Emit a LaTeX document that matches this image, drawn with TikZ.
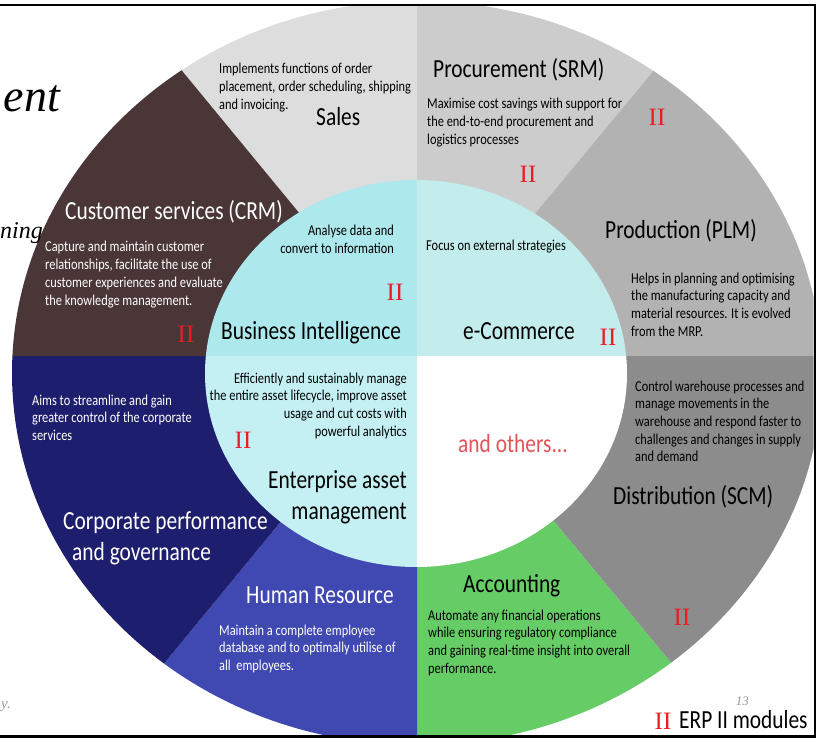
\documentclass[tikz,border=0pt]{standalone}
\usepackage{fontspec}
\setmainfont[FakeStretch=0.82]{Carlito}
\newfontfamily\serifrm{Liberation Serif}
\usetikzlibrary{calc}
\definecolor{salesgrey}{RGB}{221,221,221}
\definecolor{procgrey}{RGB}{204,204,204}
\definecolor{prodgrey}{RGB}{178,178,178}
\definecolor{distgrey}{RGB}{140,140,140}
\definecolor{accgreen}{RGB}{102,204,102}
\definecolor{hrblue}{RGB}{64,72,178}
\definecolor{corpnavy}{RGB}{30,30,110}
\definecolor{crmbrown}{RGB}{74,54,54}
\definecolor{bicyan}{RGB}{172,232,236}
\definecolor{ecyan}{RGB}{195,236,236}
\definecolor{eamcyan}{RGB}{196,240,244}
\definecolor{iired}{RGB}{235,28,36}
\definecolor{othersred}{RGB}{226,84,90}
\definecolor{slidegrey}{RGB}{150,150,150}
\begin{document}
\begin{tikzpicture}[x=1pt,y=-1pt,
  body/.style={inner sep=0pt, font=\fontsize{15.1}{17.7}\selectfont, align=left, anchor=base west},
  bodyr/.style={body, align=right, anchor=base east},
  ttl/.style={inner sep=0pt, font=\fontsize{26.1}{31.5}\selectfont, anchor=base west},
  ttlr/.style={ttl, align=right, anchor=base east},
  twoi/.style={inner sep=0pt, text=iired, font=\serifrm\fontsize{25}{25}\selectfont},
  slideit/.style={inner sep=0pt, font=\serifrm\itshape, anchor=base east}]
\useasboundingbox (0,0) rectangle (817,738);
% centre of the rays and far points
\coordinate (O) at (417,356);
\coordinate (FA) at (-285,-496);
\coordinate (FB) at (1116,-487);
\coordinate (FD) at (1167,1262);
\coordinate (FH) at (-333,1268);
% outer ring
\begin{scope}
  \clip (0,6.5) rectangle (813.5,735.5);
  \clip (417,373) ellipse [x radius=405pt, y radius=372pt];
  \fill[salesgrey] (O) -- (FA) -- (-285,-1000) -- (417,-1000) -- cycle;
  \fill[procgrey] (O) -- (417,-1000) -- (1116,-1000) -- (FB) -- cycle;
  \fill[prodgrey] (O) -- (FB) -- (1500,-487) -- (1500,356) -- cycle;
  \fill[distgrey] (O) -- (1500,356) -- (1500,1262) -- (FD) -- cycle;
  \fill[accgreen] (O) -- (FD) -- (1167,1500) -- (417,1500) -- cycle;
  \fill[hrblue] (O) -- (417,1500) -- (-333,1500) -- (FH) -- cycle;
  \fill[corpnavy] (O) -- (FH) -- (-700,1268) -- (-700,356) -- cycle;
  \fill[crmbrown] (O) -- (-700,356) -- (-700,-496) -- (FA) -- cycle;
\end{scope}
% inner ellipse
\begin{scope}
  \clip (416,373.5) ellipse [x radius=211pt, y radius=193.5pt];
  \fill[bicyan] (0,0) rectangle (417,356);
  \fill[ecyan] (417,0) rectangle (817,356);
  \fill[eamcyan] (0,356) rectangle (417,738);
  \fill[white] (417,356) rectangle (817,738);
\end{scope}
% frame
\coordinate (ftl) at (0,5);
\coordinate (ftr) at (815,5);
\coordinate (fbr) at (815,736.5);
\coordinate (fbl) at (0,736.5);
\draw[line width=2.5pt] (ftl) -- (ftr) -- (fbr) -- (fbl);
% slide fragments
\node[slideit, font=\serifrm\itshape\fontsize{46}{46}\selectfont] (ent) at (60,112) {ent};
\node[slideit, font=\serifrm\itshape\fontsize{24}{24}\selectfont] (ning) at (43,239) {ning};
\node[slideit, text=slidegrey, font=\serifrm\itshape\fontsize{15}{15}\selectfont] (yend) at (11,708) {y.};
\node[slideit, text=slidegrey, font=\serifrm\itshape\fontsize{13}{13}\selectfont] (pnum) at (749,705) {13};
% Sales
\node[body] (salesb) at (219,109.4) {Implements functions of order\\placement, order scheduling, shipping\\and invoicing.};
\node[ttl] (salest) at (316,126) {Sales};
% CRM
\node[ttl, text=white] (crmt) at (65,220) {Customer services (CRM)};
\node[body, text=white] (crmb) at (45,305.1) {Capture and maintain customer\\relationships, facilitate the use of\\customer experiences and evaluate\\the knowledge management.};
% Procurement
\node[ttl] (proct) at (433,78) {Procurement (SRM)};
\node[body] (procb) at (427,144.4) {Maximise cost savings with support for\\the end-to-end procurement and\\logistics processes};
% Production
\node[ttl] (prodt) at (605,239) {Production (PLM)};
\node[body] (prodb) at (631,336.1) {Helps in planning and optimising\\the manufacturing capacity and\\material resources. It is evolved\\from the MRP.};
% Business Intelligence
\node[bodyr] (bib) at (394,253.7) {Analyse data and\\convert to information};
\node[ttl] (bit) at (221,339) {Business Intelligence};
% e-Commerce
\node[body] (ecb) at (426,251) {Focus on external strategies};
\node[ttl] (ect) at (463,339) {e-Commerce};
% Enterprise asset management
\node[bodyr] (eamb) at (407,436.1) {Efficiently and sustainably manage\\the entire asset lifecycle, improve asset\\usage and cut costs with\\powerful analytics};
\node[ttlr] (eamt) at (407,519.5) {Enterprise asset\\management};
% and others
\node[ttl, text=othersred] (others) at (458,452) {and others...};
% Corporate performance
\node[body, text=white] (corpb) at (32,440.4) {Aims to streamline and gain\\greater control of the corporate\\services};
\node[ttl, text=white, align=left] (corpt) at (63,560.5) {Corporate performance\\\hspace*{9pt}and governance};
% Human Resource
\node[ttl, text=white] (hrt) at (246,603) {Human Resource};
\node[body, text=white] (hrb) at (219,670.4) {Maintain a complete employee\\database and to optimally utilise of\\all\ \ employees.};
% Distribution
\node[body] (distb) at (635,461.8) {Control warehouse processes and\\manage movements in the\\warehouse and respond faster to\\challenges and changes in supply\\and demand};
\node[ttl] (distt) at (613,504) {Distribution (SCM)};
% Accounting
\node[ttl] (acct) at (463,592) {Accounting};
\node[body] (accb) at (428,673.1) {Automate any financial operations\\while ensuring regulatory compliance\\and gaining real-time insight into overall\\performance.};
% ERP II markers
\node[twoi] (ii1) at (657,117) {II};
\node[twoi] (ii2) at (528,174) {II};
\node[twoi] (ii3) at (395,292) {II};
\node[twoi] (ii4) at (186,334) {II};
\node[twoi] (ii5) at (608,337) {II};
\node[twoi] (ii6) at (243,440) {II};
\node[twoi] (ii7) at (682,617) {II};
% legend
\node[twoi] (iileg) at (663,721) {II};
\node[ttl] (legt) at (679,728) {ERP II modules};
\end{tikzpicture}
\end{document}
